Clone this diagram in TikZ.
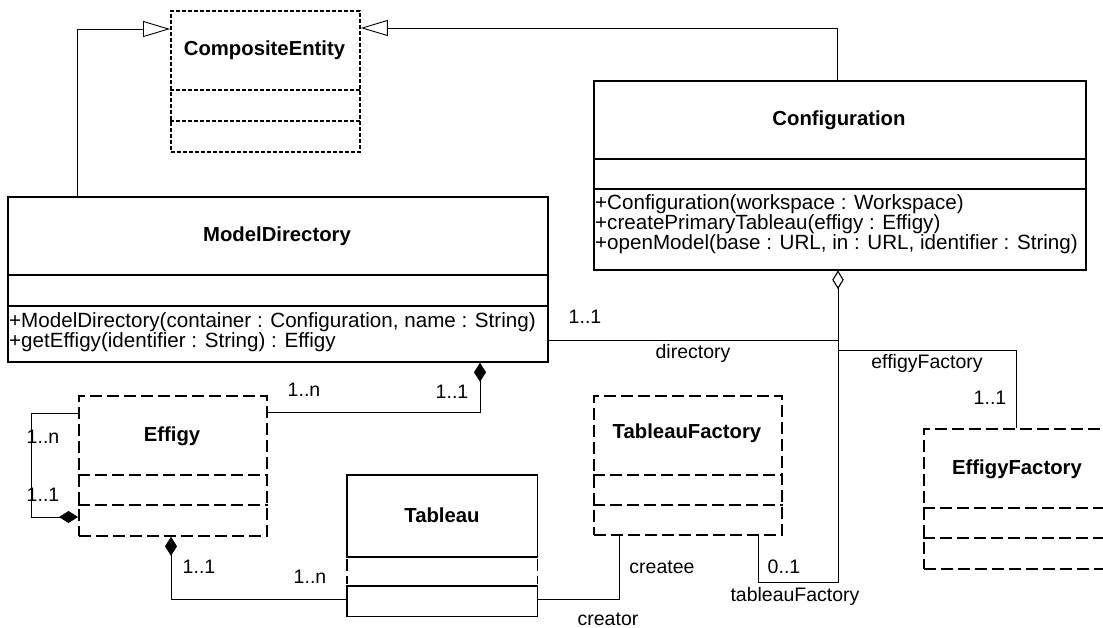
\documentclass[tikz,border=0pt]{standalone}
\usepackage{fontspec}
\setmainfont{Liberation Sans}
\usetikzlibrary{arrows.meta, calc}
\tikzset{
  clsbox/.style  = {draw, line width=1.8pt, inner sep=0pt, anchor=north west},
  dashcls/.style = {clsbox, dash pattern=on 12pt off 5pt},
  finecls/.style = {clsbox, dash pattern=on 4pt off 2pt},
  ctitle/.style  = {font=\fontsize{20.3}{23}\selectfont\bfseries},
  meth/.style    = {font=\fontsize{20.6}{21}\selectfont, anchor=base west, inner sep=0pt},
  lbl/.style     = {font=\fontsize{19.5}{20}\selectfont, inner sep=0pt},
  assoc/.style   = {line width=0.9pt},
  genarr/.style  = {assoc, -{Triangle[open, length=27pt, width=16pt, fill=white]}},
  comparr/.style = {assoc, {Diamond[length=19pt, width=12pt]}-},
  aggrarr/.style = {assoc, {Diamond[open, length=18pt, width=11pt, fill=white]}-}
}

\begin{document}
\begin{tikzpicture}[x=1pt, y=-1pt]
\clip (0,0) rectangle (1103,628);
\useasboundingbox (0,0) rectangle (1103,628);

% class boxes
\node[finecls, minimum width=189pt, minimum height=141pt] (ce) at (170,10) {};
\node[clsbox, minimum width=492pt, minimum height=189pt] (conf) at (593,80) {};
\node[clsbox, minimum width=540pt, minimum height=165pt] (md) at (7,196) {};
\node[dashcls, minimum width=188pt, minimum height=140pt] (eff) at (78,395) {};
\node[inner sep=0pt, anchor=north west, minimum width=190pt, minimum height=141pt] (tab) at (347,475) {};
\node[dashcls, minimum width=188pt, minimum height=139pt] (tfac) at (593,395) {};
\node[dashcls, minimum width=188pt, minimum height=140pt] (efac) at (923,428) {};

% compartments
\draw[line width=1.8pt, dash pattern=on 4pt off 2pt] ([yshift=-80pt]ce.north west) -- ([yshift=-80pt]ce.north east)
  ([yshift=-111pt]ce.north west) -- ([yshift=-111pt]ce.north east);
\draw[line width=1.8pt] ([yshift=-79pt]conf.north west) -- ([yshift=-79pt]conf.north east)
  ([yshift=-109pt]conf.north west) -- ([yshift=-109pt]conf.north east);
\draw[line width=1.8pt] ([yshift=-79pt]md.north west) -- ([yshift=-79pt]md.north east)
  ([yshift=-110pt]md.north west) -- ([yshift=-110pt]md.north east);
\foreach \n in {eff,tfac,efac}
  \draw[line width=1.8pt, dash pattern=on 12pt off 5pt] ([yshift=-80pt]\n.north west) -- ([yshift=-80pt]\n.north east)
    ([yshift=-110pt]\n.north west) -- ([yshift=-110pt]\n.north east);
\draw[line width=1.8pt] (tab.north west) rectangle ([yshift=-82pt]tab.north east);
\draw[line width=1.8pt, dash pattern=on 12pt off 5pt] ([yshift=-84pt]tab.north west) -- ([yshift=-109pt]tab.north west)
  ([yshift=-84pt]tab.north east) -- ([yshift=-109pt]tab.north east);
\draw[line width=1.8pt] ([yshift=-111pt]tab.north west) rectangle (tab.south east);

% titles
\node[ctitle] (ceT) at (264.5,50) {CompositeEntity};
\node[ctitle] (confT) at (839,120) {Configuration};
\node[ctitle] (mdT) at (277,236) {ModelDirectory};
\node[ctitle] (effT) at (172,436) {Effigy};
\node[ctitle] (tabT) at (442,515) {Tableau};
\node[ctitle] (tfacT) at (687,433) {TableauFactory};
\node[ctitle] (efacT) at (1017,469) {EffigyFactory};

% operations
\node[meth] (confM1) at (595,210) {+Configuration(workspace : Workspace)};
\node[meth] (confM2) at (595,230) {+createPrimaryTableau(effigy : Effigy)};
\node[meth] (confM3) at (595,250) {+openModel(base : URL, in : URL, identifier : String)};
\node[meth] (mdM1) at (9,327) {+ModelDirectory(container : Configuration, name : String)};
\node[meth] (mdM2) at (9,348) {+getEffigy(identifier : String) : Effigy};

% generalizations
\draw[genarr] ([xshift=70pt]md.north west) |- ([yshift=-19pt]ce.north west);
\draw[genarr] ([xshift=244pt]conf.north west) |- ([yshift=-18pt]ce.north east);

% compositions
\draw[comparr] ([xshift=473pt]md.south west) |- ([yshift=-17pt]eff.north east);
\draw[comparr] ([yshift=-122pt]eff.north west) -- ++(-47,0) |- ([yshift=-18pt]eff.north west);
\draw[comparr] ([xshift=93pt]eff.south west) |- ([yshift=-124pt]tab.north west);

% aggregations from Configuration
\draw[aggrarr] ([xshift=245pt]conf.south west) |- ([yshift=-144pt]md.north east);
\draw[aggrarr] ([xshift=245pt]conf.south west) -- ++(0,80) -| ([xshift=93pt]efac.north west);
\draw[aggrarr] ([xshift=245pt]conf.south west) -- ++(0,312) -| ([xshift=165pt]tfac.south west);

% plain association
\draw[assoc] ([yshift=-124pt]tab.north east) -| ([xshift=26pt]tfac.south west);

% role names and multiplicities
\node[lbl] (dirM) at (585,317) {1..1};
\node[lbl] (dirR) at (693,353) {directory};
\node[lbl] (efR) at (927,363) {effigyFactory};
\node[lbl] (efM) at (990,398) {1..1};
\node[lbl] (effM) at (304,390) {1..n};
\node[lbl] (mdM) at (452,392) {1..1};
\node[lbl] (selfN) at (43,437) {1..n};
\node[lbl] (selfO) at (43,495) {1..1};
\node[lbl] (tabO) at (199,567) {1..1};
\node[lbl] (tabN) at (310,577) {1..n};
\node[lbl] (createe) at (662,567) {createe};
\node[lbl] (creator) at (608,619) {creator};
\node[lbl] (tfM) at (784,567) {0..1};
\node[lbl] (tfR) at (795,596) {tableauFactory};
\end{tikzpicture}
\end{document}
